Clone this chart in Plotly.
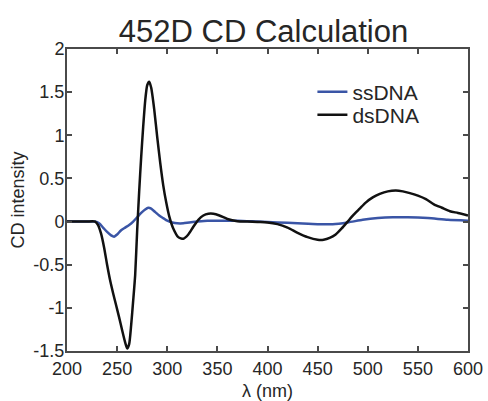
import plotly.graph_objects as go

# Calculated CD spectra for 452D
ds_wavelength = [200, 210, 220, 228, 231, 234, 237, 240, 243, 246, 249, 252, 255, 258, 260,
                 262, 264, 266, 268, 270, 272, 274, 276, 278, 280, 282, 284, 287, 290, 293,
                 296, 299, 302, 306, 311, 316, 321, 326, 331, 336, 341, 346, 352, 360, 370,
                 380, 390, 400, 410, 420, 430, 440, 450, 456, 462, 468, 474, 480, 486, 492,
                 498, 505, 512, 520, 528, 535, 542, 550, 558, 566, 574, 582, 590, 600]
ds_cd = [0, 0, 0, 0, -0.04, -0.14, -0.3, -0.5, -0.68, -0.83, -0.97, -1.11, -1.26, -1.4, -1.47,
         -1.42, -1.2, -0.92, -0.62, -0.1, 0.35, 0.75, 1.1, 1.4, 1.58, 1.62, 1.55, 1.3, 0.98, 0.68,
         0.42, 0.22, 0.06, -0.08, -0.18, -0.2, -0.15, -0.06, 0.02, 0.07, 0.09, 0.09, 0.07, 0.03, 0.005,
         0, -0.005, -0.01, -0.03, -0.07, -0.13, -0.18, -0.21, -0.21, -0.19, -0.15, -0.08, 0.0, 0.08, 0.15,
         0.22, 0.28, 0.32, 0.35, 0.36, 0.35, 0.33, 0.3, 0.26, 0.2, 0.16, 0.12, 0.1, 0.07]

ss_wavelength = [200, 220, 228, 232, 236, 240, 244, 247, 250, 254, 258, 262, 266, 270, 274,
                 278, 281, 284, 288, 292, 296, 300, 305, 310, 316, 322, 330, 340, 350, 370,
                 390, 410, 430, 450, 465, 480, 495, 510, 525, 540, 560, 580, 600]
ss_cd = [0, 0, 0, -0.02, -0.07, -0.12, -0.16, -0.175, -0.15, -0.1, -0.07, -0.04, 0.0, 0.05, 0.1,
         0.14, 0.16, 0.15, 0.11, 0.07, 0.04, 0.01, -0.01, -0.02, -0.02, -0.01, 0.0, 0.01, 0.01, 0.01,
         0.0, -0.01, -0.02, -0.03, -0.03, -0.01, 0.02, 0.04, 0.05, 0.05, 0.04, 0.02, 0.01]

x_ticks = [200, 250, 300, 350, 400, 450, 500, 550, 600]
y_ticks = [-1.5, -1, -0.5, 0, 0.5, 1, 1.5, 2]
y_tick_text = ["-1.5", "-1", "-0.5", "0", "0.5", "1", "1.5", "2"]

font_family = "Liberation Sans, Arial, sans-serif"
text_color = "#262626"
axis_color = "#4a4a4a"

fig = go.Figure()
fig.add_trace(go.Scatter(x=ss_wavelength, y=ss_cd, mode="lines", name="ssDNA", legend="legend",
                         line=dict(color="#3a55a6", width=2.5, shape="spline", smoothing=0.6)))
fig.add_trace(go.Scatter(x=ds_wavelength, y=ds_cd, mode="lines", name="dsDNA", legend="legend2",
                         line=dict(color="#111111", width=2.5, shape="spline", smoothing=0.6)))

axis_common = dict(
    showgrid=False, zeroline=False, showline=True, linecolor=axis_color, linewidth=2,
    mirror="ticks", ticks="inside", ticklen=5, tickwidth=1.5, tickcolor=axis_color,
    automargin=False,
    tickfont=dict(size=18, color=text_color, family=font_family),
)

legend_common = dict(xanchor="left", yanchor="middle", bgcolor="rgba(0,0,0,0)",
                     font=dict(size=21, color=text_color, family=font_family),
                     itemwidth=30)

fig.update_layout(
    width=488, height=401,
    margin=dict(l=67, r=20, t=49, b=50, autoexpand=False),
    paper_bgcolor="white", plot_bgcolor="white",
    title=dict(text="452D CD Calculation", x=0.54, xanchor="center",
               yref="container", y=1 - 31 / 401, yanchor="middle",
               font=dict(size=31, color=text_color, family=font_family)),
    xaxis=dict(range=[200, 600], tickvals=x_ticks,
               title=dict(text="λ (nm)", standoff=10,
                          font=dict(size=18, color=text_color, family=font_family)),
               **axis_common),
    yaxis=dict(range=[-1.5, 2], tickvals=y_ticks, ticktext=y_tick_text, ticklabelstandoff=-3,
               title=dict(text="CD intensity", standoff=4,
                          font=dict(size=18, color=text_color, family=font_family)),
               **axis_common),
    legend=dict(x=0.612, y=(351 - 92) / 302, **legend_common),
    legend2=dict(x=0.612, y=(351 - 115) / 302, **legend_common),
    showlegend=True,
)

fig.write_html("out.html")
